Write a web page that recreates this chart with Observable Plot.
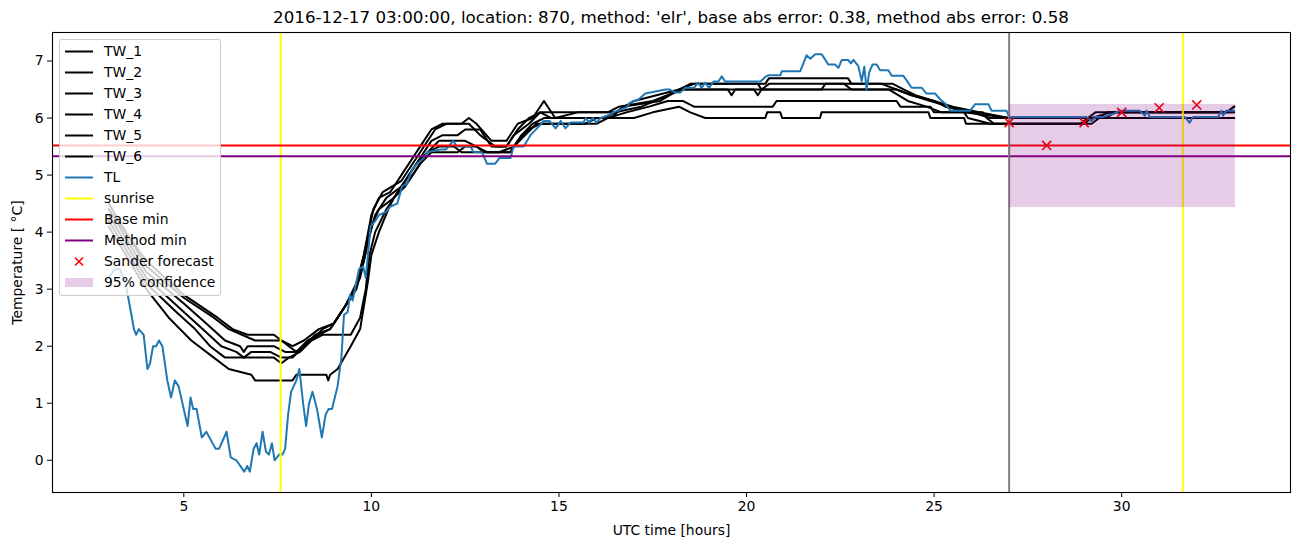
<!DOCTYPE html>
<html>
<head>
<meta charset="utf-8">
<script src="https://cdn.jsdelivr.net/npm/d3@7"></script>
<script src="https://cdn.jsdelivr.net/npm/@observablehq/plot@0.6"></script>
<style>
  body { margin: 0; background: #fff; }
  #wrap { position: relative; width: 1302px; height: 547px; font-family: "DejaVu Sans", sans-serif; color: #000; }
  #title { position: absolute; left: 52px; width: 1238px; top: 0; height: 32px; line-height: 35px; text-align: center; font-size: 16.7px; white-space: nowrap; }
  #chart { position: absolute; left: 0; top: 31px; }
  #legend { position: absolute; left: 59px; top: 39px; width: 162px; height: 257px; background: rgba(255,255,255,0.8); border: 1px solid #cccccc; border-radius: 3px; box-sizing: border-box; }
  .row { position: absolute; left: 0; height: 21px; line-height: 21px; font-size: 13.9px; white-space: nowrap; }
  .row svg { position: absolute; left: 4px; top: 0; }
  .row span { position: absolute; left: 44px; top: 0; }
</style>
</head>
<body>
<div id="wrap">
  <div id="title"></div>
  <div id="chart"></div>
  <div id="legend"></div>
</div>
<script>
const titleText = "2016-12-17 03:00:00, location: 870, method: 'elr', base abs error: 0.38, method abs error: 0.58";

// Observations: [hour, temperature]
const TW_1 = [[3.0,4.4],[4.0,3.5],[5.0,2.9],[5.9,2.5],[6.3,2.3],[6.7,2.2],[7.4,2.2],[7.6,2.1],[7.9,2.0],[8.2,2.1],[8.6,2.3],[9.0,2.4],[9.3,2.7],[9.6,3.1],[9.8,3.6],[10.0,4.3],[10.2,4.6],[10.5,4.7],[10.9,5.1],[11.2,5.4],[11.4,5.6],[11.6,5.8],[11.9,5.9],[12.4,5.9],[12.6,6.0],[12.8,5.9],[13.2,5.6],[13.6,5.6],[13.9,5.9],[14.3,6.0],[14.6,6.3],[14.9,6.0],[15.5,6.1],[16.5,6.1],[17.0,6.3],[17.6,6.4],[18.2,6.5],[18.6,6.6],[20.5,6.6],[20.6,6.7],[22.7,6.7],[22.8,6.6],[23.9,6.6],[24.2,6.5],[24.5,6.4],[25.0,6.3],[25.5,6.2],[26.2,6.1],[27.0,6.0],[29.1,6.0],[29.3,6.1],[32.8,6.1],[33.0,6.2]];
const TW_2 = [[3.0,4.5],[4.0,3.4],[5.0,2.85],[5.8,2.5],[6.2,2.3],[6.9,2.1],[7.6,2.1],[7.8,2.0],[8.0,1.9],[8.3,2.1],[8.6,2.2],[8.9,2.3],[9.2,2.6],[9.5,2.9],[9.7,3.3],[9.9,3.9],[10.05,4.4],[10.3,4.7],[10.8,4.9],[11.1,5.2],[11.4,5.5],[11.7,5.8],[12.0,5.9],[12.6,5.9],[12.9,5.7],[13.3,5.5],[13.6,5.5],[13.9,5.8],[14.2,6.0],[14.5,6.1],[16.3,6.1],[16.6,6.2],[17.5,6.3],[17.9,6.4],[18.2,6.5],[18.5,6.6],[20.3,6.6],[20.4,6.5],[20.6,6.6],[23.6,6.6],[24.0,6.5],[24.4,6.4],[25.0,6.3],[25.3,6.2],[26.0,6.1],[26.5,6.0],[29.6,6.0],[29.8,6.1],[32.8,6.1],[33.0,6.2]];
const TW_3 = [[3.0,4.4],[4.0,3.3],[5.0,2.75],[5.6,2.4],[6.1,2.1],[6.5,2.0],[6.6,1.9],[6.7,2.0],[7.4,2.0],[7.7,1.9],[8.0,1.9],[8.4,2.1],[8.7,2.3],[9.0,2.4],[9.4,2.8],[9.7,3.2],[9.9,3.8],[10.1,4.3],[10.4,4.6],[10.8,4.8],[11.0,5.0],[11.3,5.3],[11.6,5.6],[11.9,5.7],[12.3,5.7],[12.5,5.8],[12.9,5.8],[13.2,5.5],[13.6,5.5],[13.8,5.7],[14.2,5.9],[14.5,6.1],[14.8,6.0],[16.2,6.0],[16.5,6.1],[17.2,6.2],[17.9,6.4],[18.3,6.5],[19.5,6.5],[19.6,6.4],[19.7,6.5],[22.0,6.5],[22.1,6.6],[22.6,6.6],[22.8,6.5],[24.0,6.5],[24.4,6.4],[24.9,6.3],[25.4,6.2],[25.8,6.1],[27.0,6.0],[29.4,6.0],[29.6,6.1],[33.0,6.1]];
const TW_4 = [[3.0,4.3],[4.0,3.2],[5.0,2.6],[5.5,2.3],[6.0,2.0],[6.4,1.9],[6.6,1.8],[6.8,1.9],[7.3,1.9],[7.6,1.8],[7.9,1.8],[8.2,2.0],[8.5,2.2],[8.9,2.3],[9.3,2.7],[9.6,3.0],[9.8,3.5],[10.0,4.1],[10.2,4.4],[10.6,4.6],[10.9,4.8],[11.2,5.1],[11.5,5.4],[11.8,5.6],[12.5,5.6],[12.8,5.5],[13.0,5.4],[13.7,5.4],[14.0,5.7],[14.3,5.9],[14.6,6.0],[16.4,6.0],[16.7,6.2],[17.7,6.3],[18.2,6.5],[20.2,6.5],[20.3,6.4],[20.4,6.5],[23.8,6.5],[24.3,6.3],[24.8,6.2],[25.2,6.1],[26.3,6.1],[26.4,6.0],[26.6,5.9],[29.0,5.9],[29.2,6.0],[29.7,6.1],[33.0,6.1]];
const TW_5 = [[3.0,4.2],[4.0,3.1],[4.8,2.6],[5.3,2.3],[5.7,2.0],[6.1,1.8],[7.4,1.8],[7.6,1.7],[7.8,1.8],[8.1,1.9],[8.4,2.1],[8.7,2.2],[9.45,2.2],[9.7,2.5],[9.85,3.0],[9.95,3.6],[10.1,4.0],[10.4,4.4],[10.7,4.7],[11.0,4.9],[11.3,5.2],[11.6,5.4],[12.3,5.4],[12.5,5.5],[12.8,5.5],[13.1,5.4],[13.7,5.4],[13.9,5.6],[14.2,5.8],[14.5,5.9],[15.7,5.9],[16.0,6.0],[16.3,6.0],[16.8,6.1],[17.4,6.2],[17.9,6.3],[18.3,6.3],[18.6,6.2],[20.7,6.2],[20.8,6.3],[24.0,6.3],[24.1,6.2],[24.9,6.2],[25.0,6.1],[25.8,6.1],[25.9,6.0],[26.5,5.9],[29.2,5.9],[29.4,6.0],[33.0,6.0]];
const TW_6 = [[3.0,4.1],[4.0,3.0],[4.6,2.5],[5.2,2.1],[5.8,1.8],[6.2,1.6],[6.8,1.5],[6.9,1.4],[7.9,1.4],[8.0,1.5],[8.8,1.5],[8.85,1.4],[8.9,1.5],[9.1,1.6],[9.45,2.0],[9.7,2.3],[9.9,3.1],[10.0,3.6],[10.2,4.0],[10.45,4.4],[10.6,4.6],[10.9,4.9],[11.2,5.2],[11.5,5.4],[11.8,5.5],[12.2,5.5],[12.4,5.4],[13.4,5.4],[13.8,5.5],[14.1,5.7],[14.4,5.9],[16.0,5.9],[16.3,6.0],[17.0,6.0],[17.5,6.1],[18.2,6.2],[18.5,6.1],[18.9,6.0],[20.5,6.0],[20.55,6.1],[20.9,6.1],[20.95,6.0],[21.96,6.0],[22.0,6.1],[24.85,6.1],[24.9,6.0],[25.8,6.0],[25.85,5.9],[28.9,5.9],[29.1,6.0],[33.0,6.0]];
const TL = [[3.0,3.2],[3.17,3.35],[3.3,3.35],[3.45,3.1],[3.59,2.6],[3.67,2.3],[3.73,2.2],[3.8,2.3],[3.86,2.25],[3.93,2.2],[4.03,1.6],[4.1,1.7],[4.18,2.0],[4.26,2.0],[4.34,2.1],[4.43,2.0],[4.56,1.4],[4.66,1.1],[4.76,1.4],[4.86,1.3],[5.1,0.6],[5.18,1.1],[5.25,0.9],[5.34,0.9],[5.48,0.4],[5.6,0.5],[5.85,0.2],[5.94,0.2],[6.14,0.5],[6.25,0.05],[6.4,0.0],[6.61,-0.2],[6.69,-0.1],[6.76,-0.2],[6.86,0.2],[6.94,0.3],[7.01,0.1],[7.1,0.5],[7.19,0.15],[7.27,0.1],[7.35,0.3],[7.42,0.0],[7.54,0.1],[7.63,0.1],[7.7,0.2],[7.78,0.8],[7.86,1.2],[8.0,1.4],[8.08,1.6],[8.18,1.0],[8.26,0.6],[8.34,1.0],[8.43,1.2],[8.55,0.9],[8.68,0.4],[8.78,0.8],[8.86,0.9],[8.95,0.9],[9.1,1.3],[9.2,1.8],[9.27,2.55],[9.37,2.6],[9.43,2.9],[9.5,2.8],[9.67,3.35],[9.78,3.4],[9.85,3.2],[9.98,4.1],[10.11,4.2],[10.2,4.3],[10.38,4.35],[10.51,4.45],[10.69,4.5],[10.82,4.8],[10.95,4.85],[11.09,5.1],[11.22,5.2],[11.4,5.3],[11.49,5.4],[11.84,5.45],[11.99,5.45],[12.18,5.6],[12.28,5.5],[12.64,5.5],[12.73,5.4],[12.95,5.4],[13.08,5.2],[13.3,5.2],[13.42,5.3],[13.71,5.3],[13.79,5.5],[14.06,5.5],[14.24,5.7],[14.46,5.85],[14.59,5.95],[14.75,5.95],[14.91,5.82],[15.05,5.95],[15.17,5.82],[15.31,5.92],[15.65,5.92],[15.72,6.0],[15.8,5.92],[15.9,6.0],[16.0,5.92],[16.1,6.0],[16.28,6.04],[16.45,6.1],[16.81,6.19],[16.9,6.27],[17.13,6.33],[17.3,6.43],[17.84,6.5],[17.95,6.5],[18.1,6.45],[18.24,6.45],[18.37,6.53],[18.6,6.53],[18.71,6.62],[18.8,6.53],[18.9,6.62],[19.0,6.53],[19.12,6.64],[19.25,6.64],[19.34,6.73],[19.43,6.64],[20.37,6.64],[20.5,6.72],[20.58,6.75],[20.9,6.75],[20.94,6.82],[21.43,6.82],[21.6,7.1],[21.7,7.04],[21.83,7.12],[22.0,7.12],[22.18,6.94],[22.36,6.94],[22.45,6.88],[22.54,7.02],[22.71,7.02],[22.78,6.96],[22.85,7.02],[22.98,6.91],[23.07,6.65],[23.14,6.9],[23.2,6.5],[23.27,6.8],[23.36,6.94],[23.47,6.94],[23.56,6.84],[23.78,6.84],[23.87,6.74],[24.18,6.74],[24.31,6.62],[24.4,6.53],[24.67,6.53],[24.8,6.43],[25.03,6.43],[25.16,6.33],[25.3,6.25],[25.43,6.13],[25.96,6.13],[26.09,6.24],[26.45,6.24],[26.53,6.13],[26.93,6.13],[27.0,6.02],[29.06,6.02],[29.19,5.95],[29.3,6.02],[29.5,6.02],[29.81,6.08],[29.95,6.13],[30.48,6.13],[30.62,6.04],[30.66,6.13],[30.75,6.02],[31.68,6.02],[31.81,5.92],[31.9,6.02],[32.57,6.02],[32.66,6.13],[32.7,6.04],[32.79,6.13],[33.0,6.13]];

const sunriseHours = [7.58, 31.63];
const forecastHour = [27.0];
const baseMin = [5.52];
const methodMin = [5.33];
const sanderHours = [27, 28, 29, 30, 31, 32];
const sanderValues = [5.92, 5.52, 5.92, 6.1, 6.18, 6.23];
const confStart = 27.0, confEnd = 33.03, confLow = 4.43, confHigh = 6.24;
const xTicks = [5, 10, 15, 20, 25, 30];
const yTicks = [0, 1, 2, 3, 4, 5, 6, 7];
const twNames = ["TW_1", "TW_2", "TW_3", "TW_4", "TW_5", "TW_6"];
const twSeries = [TW_1, TW_2, TW_3, TW_4, TW_5, TW_6];

const twRows = twSeries.flatMap((s, i) => s.map(([h, v]) => ({series: twNames[i], h, v})));
const tlRows = TL.map(([h, v]) => ({h, v}));
const sanderRows = sanderHours.map((h, i) => ({h, v: sanderValues[i]}));
const confRows = [{x1: confStart, x2: confEnd, y1: confLow, y2: confHigh}];

document.getElementById("title").textContent = titleText;

const chart = Plot.plot({
  width: 1302,
  height: 516,
  marginLeft: 52,
  marginRight: 12,
  marginTop: 1,
  marginBottom: 55,
  style: {fontFamily: "DejaVu Sans", fontSize: "13.9px", color: "#000", background: "transparent"},
  x: {domain: [1.5, 34.5]},
  y: {domain: [-0.565, 7.5]},
  marks: [
    Plot.line(twRows, {x: "h", y: "v", z: "series", stroke: "black", strokeWidth: 2}),
    Plot.line(tlRows, {x: "h", y: "v", stroke: "#1f77b4", strokeWidth: 2}),
    Plot.ruleX(sunriseHours, {stroke: "yellow", strokeWidth: 2}),
    Plot.ruleY(baseMin, {stroke: "red", strokeWidth: 2}),
    Plot.ruleY(methodMin, {stroke: "purple", strokeWidth: 2}),
    Plot.ruleX(forecastHour, {stroke: "gray", strokeWidth: 2}),
    Plot.dot(sanderRows, {x: "h", y: "v", symbol: "times", r: 4.2, stroke: "red", strokeWidth: 1.6}),
    Plot.rect(confRows, {x1: "x1", x2: "x2", y1: "y1", y2: "y2", fill: "purple", fillOpacity: 0.2}),
    Plot.frame({stroke: "black", strokeWidth: 1.1}),
    Plot.axisX({ticks: xTicks, tickSize: 5, tickPadding: 4, label: "UTC time [hours]", labelAnchor: "center", labelArrow: "none", labelOffset: 42}),
    Plot.axisY({ticks: yTicks, tickSize: 5, tickPadding: 4, label: "Temperature [ °C]", labelAnchor: "center", labelArrow: "none", labelOffset: 40})
  ]
});
document.getElementById("chart").appendChild(chart);

// Legend
const legendItems = [
  ...twNames.map(n => ({label: n, kind: "line", color: "black"})),
  {label: "TL", kind: "line", color: "#1f77b4"},
  {label: "sunrise", kind: "line", color: "yellow"},
  {label: "Base min", kind: "line", color: "red"},
  {label: "Method min", kind: "line", color: "purple"},
  {label: "Sander forecast", kind: "x", color: "red"},
  {label: "95% confidence", kind: "patch", color: "purple"}
];
const legend = document.getElementById("legend");
const ns = "http://www.w3.org/2000/svg";
legendItems.forEach((item, i) => {
  const row = document.createElement("div");
  row.className = "row";
  row.style.top = (1 + 21 * i) + "px";
  row.style.width = "158px";
  const svg = document.createElementNS(ns, "svg");
  svg.setAttribute("width", 32);
  svg.setAttribute("height", 21);
  if (item.kind === "line") {
    const l = document.createElementNS(ns, "line");
    l.setAttribute("x1", 1); l.setAttribute("x2", 29);
    l.setAttribute("y1", 10.5); l.setAttribute("y2", 10.5);
    l.setAttribute("stroke", item.color); l.setAttribute("stroke-width", 2);
    svg.appendChild(l);
  } else if (item.kind === "x") {
    const p = document.createElementNS(ns, "path");
    p.setAttribute("d", "M11,6.5L19,14.5M19,6.5L11,14.5");
    p.setAttribute("stroke", item.color); p.setAttribute("stroke-width", 1.6);
    svg.appendChild(p);
  } else {
    const r = document.createElementNS(ns, "rect");
    r.setAttribute("x", 1); r.setAttribute("y", 6); r.setAttribute("width", 28); r.setAttribute("height", 9);
    r.setAttribute("fill", item.color); r.setAttribute("fill-opacity", 0.2);
    svg.appendChild(r);
  }
  row.appendChild(svg);
  const span = document.createElement("span");
  span.textContent = item.label;
  row.appendChild(span);
  legend.appendChild(row);
});
</script>
</body>
</html>
